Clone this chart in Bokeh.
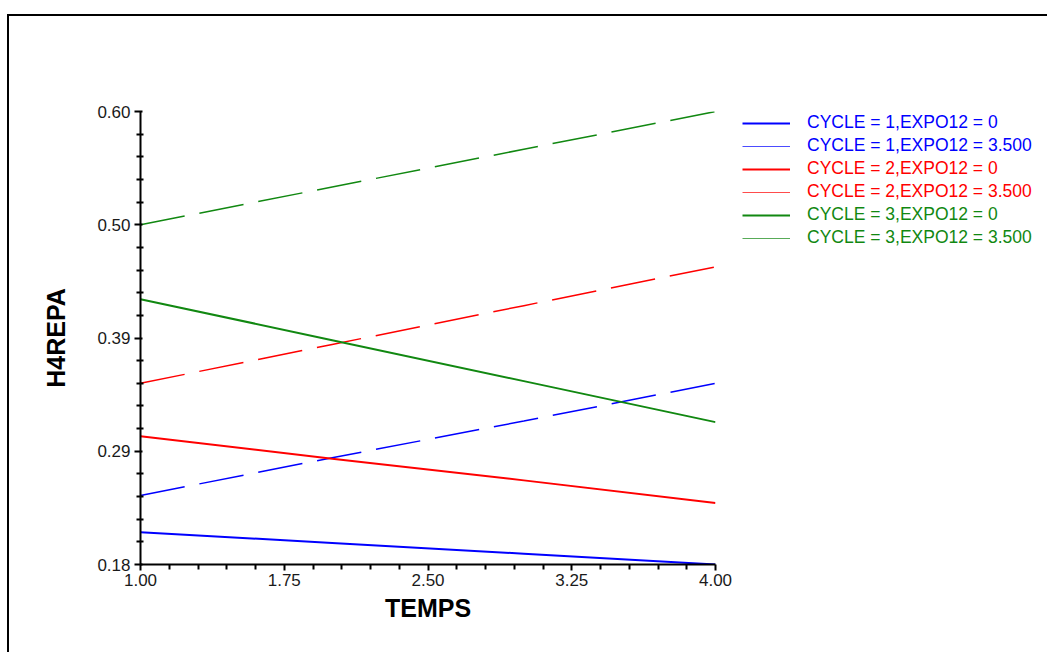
from bokeh.plotting import figure
from bokeh.layouts import row
from bokeh.models import Range1d, FixedTicker, Legend, LegendItem
from bokeh.embed import file_html
from bokeh.resources import INLINE

# ---- data ----
temps = [1.0, 2.0, 3.0, 4.0]
c1_e0 = [0.210, 0.200, 0.190, 0.180]
c1_e35 = [0.244, 0.279, 0.313, 0.348]
c2_e0 = [0.299, 0.278, 0.258, 0.237]
c2_e35 = [0.348, 0.384, 0.420, 0.456]
c3_e0 = [0.426, 0.388, 0.350, 0.312]
c3_e35 = [0.495, 0.530, 0.565, 0.600]

x_ticks = [1.0, 1.75, 2.5, 3.25, 4.0]
x_tick_labels = ["1.00", "1.75", "2.50", "3.25", "4.00"]
y_ticks = [0.18, 0.285, 0.39, 0.495, 0.60]
y_tick_labels = ["0.18", "0.29", "0.39", "0.50", "0.60"]

series_labels = ["CYCLE = 1,EXPO12 = 0", "CYCLE = 1,EXPO12 = 3.500",
                 "CYCLE = 2,EXPO12 = 0", "CYCLE = 2,EXPO12 = 3.500",
                 "CYCLE = 3,EXPO12 = 0", "CYCLE = 3,EXPO12 = 3.500"]
series_values = [c1_e0, c1_e35, c2_e0, c2_e35, c3_e0, c3_e35]
series_colors = ["#0000ff", "#0000ff", "#ff0000", "#ff0000", "#118811", "#118811"]
series_dashed = [False, True, False, True, False, True]

FONT = "Liberation Sans"
W, H = 1047, 652
FL, FR, FT, FB = 140, 715, 111, 564
PW = 740  # width of the chart figure; the rest holds the legend

p = figure(width=PW, height=H, output_backend="svg", toolbar_location=None,
           x_range=Range1d(1.0, 4.0), y_range=Range1d(0.18, 0.60),
           min_border_left=FL, min_border_right=PW - FR,
           min_border_top=FT, min_border_bottom=H - FB)
p.outline_line_color = None
p.grid.grid_line_color = None
p.background_fill_alpha = 0
p.border_fill_alpha = 0

def minors(ticks, n=5):
    out = []
    for a, b in zip(ticks[:-1], ticks[1:]):
        step = (b - a) / n
        out += [a + step * k for k in range(1, n)]
    return out

p.xaxis.ticker = FixedTicker(ticks=x_ticks, minor_ticks=minors(x_ticks))
p.yaxis.ticker = FixedTicker(ticks=y_ticks, minor_ticks=minors(y_ticks))
p.xaxis.major_label_overrides = dict(zip(x_ticks, x_tick_labels))
p.yaxis.major_label_overrides = dict(zip(y_ticks, y_tick_labels))

for ax in (p.xaxis, p.yaxis):
    ax.axis_line_width = 2
    ax.axis_line_color = "black"
    ax.major_tick_line_width = 2
    ax.minor_tick_line_width = 2
    ax.major_tick_line_color = "black"
    ax.minor_tick_line_color = "black"
    ax.major_label_text_font = FONT
    ax.major_label_text_font_size = "17px"
    ax.major_label_text_color = "#1a1a1a"
    ax.axis_label_text_font = FONT
    ax.axis_label_text_font_size = "25px"
    ax.axis_label_text_font_style = "bold"
    ax.axis_label_text_color = "black"

p.xaxis.major_tick_out = 6
p.xaxis.major_tick_in = 0
p.xaxis.minor_tick_out = 5
p.xaxis.minor_tick_in = 0
p.xaxis.major_label_standoff = 3
p.xaxis.axis_label = "TEMPS"
p.xaxis.axis_label_standoff = 5

p.yaxis.major_tick_out = 6
p.yaxis.major_tick_in = 2
p.yaxis.minor_tick_out = 4
p.yaxis.minor_tick_in = 3
p.yaxis.major_label_standoff = 4
p.yaxis.axis_label = "H4REPA"
p.yaxis.axis_label_standoff = 24

for vals, col, dashed in zip(series_values, series_colors, series_dashed):
    if dashed:
        p.line(temps, vals, line_color=col, line_width=1.5, line_dash="45 15")
    else:
        p.line(temps, vals, line_color=col, line_width=2)

# ---- legend panel (separate figure so nothing is clipped) ----
LW = W - PW
lp = figure(width=LW, height=H, output_backend="svg", toolbar_location=None,
            x_range=Range1d(0, 1), y_range=Range1d(0, 1),
            x_axis_location=None, y_axis_location=None,
            min_border=0, min_border_left=0, min_border_right=0,
            min_border_top=0, min_border_bottom=0)
lp.outline_line_color = None
lp.grid.grid_line_color = None
lp.background_fill_alpha = 0
lp.border_fill_alpha = 0

row_top0, pitch = 112, 23
for i, (lab, col, dashed) in enumerate(zip(series_labels, series_colors, series_dashed)):
    # legend-sample renderer; its points lie outside the visible range
    dummy = lp.line([-5, -4], [-5, -5], line_color=col, line_width=1 if dashed else 2,
                    line_alpha=0.7 if dashed else 1.0)
    top_canvas = row_top0 + pitch * i
    leg = Legend(items=[LegendItem(label=lab, renderers=[dummy])],
                 location=(742 - PW, 543 - top_canvas),
                 glyph_width=48, glyph_height=20, label_height=20,
                 label_standoff=17, padding=0, margin=0, spacing=0,
                 border_line_color=None, background_fill_alpha=0,
                 label_text_font=FONT, label_text_font_size="17.5px",
                 label_text_color=col)
    lp.add_layout(leg, "center")

layout = row(p, lp, spacing=0)
layout.styles = {
    "background-color": "white",
    "background-image": "linear-gradient(black, black), linear-gradient(black, black)",
    "background-size": "2px 100%, 100% 2px",
    "background-position": "7px 14px, 7px 14px",
    "background-repeat": "no-repeat",
}

open("out.html", "w").write(file_html(layout, INLINE))
